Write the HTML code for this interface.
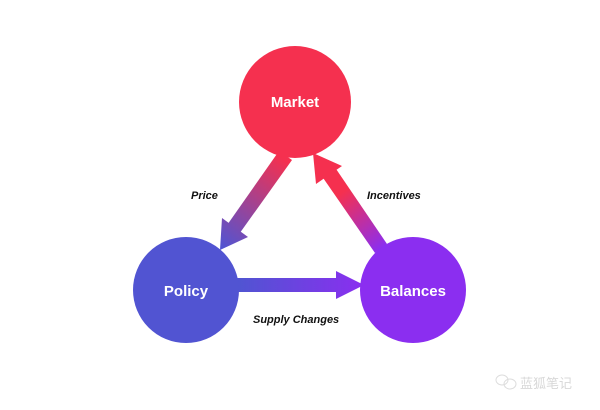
<!DOCTYPE html>
<html><head><meta charset="utf-8"><style>
html,body{margin:0;padding:0;background:#fff;width:600px;height:410px;overflow:hidden}
</style></head><body>
<svg width="600" height="410" viewBox="0 0 600 410" xmlns="http://www.w3.org/2000/svg">
<defs>
<linearGradient id="g1" gradientUnits="userSpaceOnUse" x1="285" y1="160" x2="222" y2="248"><stop offset="0" stop-color="#f5304f"/><stop offset="1" stop-color="#5154d2"/></linearGradient>
<linearGradient id="g2" gradientUnits="userSpaceOnUse" x1="380" y1="250" x2="315" y2="155"><stop offset="0" stop-color="#8b2ef0"/><stop offset="0.6" stop-color="#f5304f"/><stop offset="1" stop-color="#f5304f"/></linearGradient>
<linearGradient id="g3" gradientUnits="userSpaceOnUse" x1="240" y1="0" x2="365" y2="0"><stop offset="0" stop-color="#5154d2"/><stop offset="1" stop-color="#8b2ef0"/></linearGradient>
</defs>
<g fill="url(#g1)">
<polygon points="279,151 292,160 237,237 225,228"/>
<polygon points="220,250 222,218 248,237"/>
</g>
<g fill="url(#g2)">
<polygon points="319,172 332,163 387,244 375,253"/>
<polygon points="313,153 316,184 342,166"/>
</g>
<g fill="url(#g3)">
<rect x="236" y="278" width="106" height="14"/>
<polygon points="336,271 364,285 336,299"/>
</g>
<circle cx="295" cy="102" r="56" fill="#f5304f"/>
<circle cx="186" cy="290" r="53" fill="#5154d2"/>
<circle cx="413" cy="290" r="53" fill="#8b2ef0"/>
<g font-family="Liberation Sans, sans-serif" font-weight="bold" fill="#fff" text-anchor="middle" font-size="15">
<text x="295" y="107">Market</text>
<text x="186" y="296">Policy</text>
<text x="413" y="296">Balances</text>
</g>
<g font-family="Liberation Sans, sans-serif" font-weight="bold" font-style="italic" fill="#111" font-size="11">
<text x="191" y="199">Price</text>
<text x="367" y="199">Incentives</text>
<text x="253" y="323">Supply Changes</text>
</g>
<g fill="none" stroke="#ddd" stroke-width="1"><ellipse cx="502" cy="380" rx="6" ry="5"/><ellipse cx="510" cy="384" rx="6" ry="5"/></g>
<text x="520" y="388" font-family="Noto Sans CJK SC, sans-serif" font-size="13" fill="#d8d8d8">蓝狐笔记</text>
</svg>
</body></html>
